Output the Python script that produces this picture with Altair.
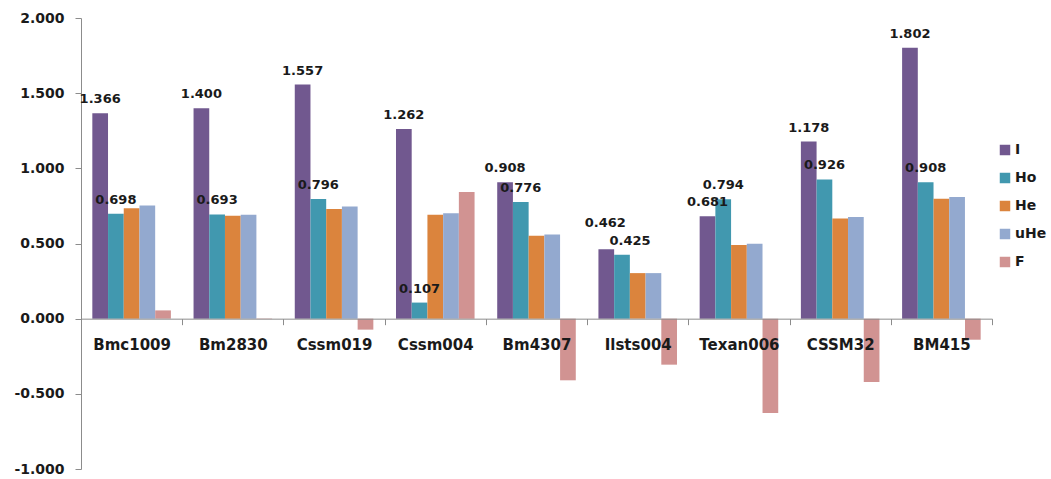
import altair as alt
import pandas as pd

# Microsatellite loci and the diversity statistics shown for each
markers = ["Bmc1009", "Bm2830", "Cssm019", "Cssm004", "Bm4307",
           "Ilsts004", "Texan006", "CSSM32", "BM415"]
series = ["I", "Ho", "He", "uHe", "F"]

I_vals = [1.366, 1.400, 1.557, 1.262, 0.908, 0.462, 0.681, 1.178, 1.802]
Ho_vals = [0.698, 0.693, 0.796, 0.107, 0.776, 0.425, 0.794, 0.926, 0.908]
He_vals = [0.735, 0.684, 0.729, 0.691, 0.551, 0.303, 0.490, 0.667, 0.797]
uHe_vals = [0.753, 0.691, 0.746, 0.702, 0.560, 0.303, 0.498, 0.676, 0.809]
F_vals = [0.055, -0.003, -0.073, 0.842, -0.410, -0.306, -0.627, -0.421, -0.140]

y_ticks = [-1.0, -0.5, 0.0, 0.5, 1.0, 1.5, 2.0]
colors = ["#71588F", "#4198AF", "#DB843D", "#93A9CF", "#D19392"]
labelled = ["I", "Ho"]
crowded = "Ilsts004"  # locus whose two value labels are nudged apart

values = {"I": I_vals, "Ho": Ho_vals, "He": He_vals, "uHe": uHe_vals, "F": F_vals}
rows = []
for s in series:
    for m, v in zip(markers, values[s]):
        rows.append({"marker": m, "stat": s, "value": v})
df = pd.DataFrame(rows)

FONT = "DejaVu Sans"
W, H = 911, 451
zero_offset = -H / 3.0  # puts the category axis on the zero line

x_enc = alt.X(
    "marker:N",
    sort=markers,
    scale=alt.Scale(paddingInner=0, paddingOuter=0),
    axis=alt.Axis(
        title=None,
        orient="bottom",
        offset=zero_offset,
        zindex=1,
        tickBand="extent",
        tickSize=6,
        tickColor="#8c8c8c",
        domainColor="#8c8c8c",
        labelAngle=0,
        labelFont=FONT,
        labelFontSize=15,
        labelFontWeight="bold",
        labelColor="#1a1a1a",
        labelPadding=13,
        grid=False,
    ),
)
xoff_enc = alt.XOffset(
    "stat:N",
    sort=series,
    scale=alt.Scale(domain=series, paddingInner=0, paddingOuter=0.72),
)
y_enc = alt.Y(
    "value:Q",
    scale=alt.Scale(domain=[-1, 2], nice=False, zero=False),
    axis=alt.Axis(
        title=None,
        values=y_ticks,
        labelExpr="replace(format(datum.value, '.3f'), '\u2212', '-')",
        tickSize=6,
        tickColor="#8c8c8c",
        domainColor="#8c8c8c",
        labelFont=FONT,
        labelFontSize=14,
        labelFontWeight="bold",
        labelColor="#1a1a1a",
        labelPadding=11,
        grid=False,
    ),
)

bars = alt.Chart(df).mark_bar(size=15.7).encode(
    x=x_enc,
    xOffset=xoff_enc,
    y=y_enc,
    color=alt.Color(
        "stat:N",
        sort=series,
        scale=alt.Scale(domain=series, range=colors),
        legend=alt.Legend(
            title=None,
            orient="none",
            legendX=917,
            legendY=125,
            symbolType="square",
            symbolSize=110,
            symbolStrokeWidth=0,
            labelFont=FONT,
            labelFontSize=14,
            labelFontWeight="bold",
            labelColor="#1a1a1a",
            rowPadding=14,
            labelOffset=3,
        ),
    ),
)


def value_labels(predicate, dx=0, dy=-10):
    return alt.Chart(df).transform_filter(predicate).mark_text(
        font=FONT, fontSize=13, fontWeight="bold", color="#1a1a1a",
        baseline="alphabetic", dx=dx, dy=dy,
    ).encode(
        x=alt.X("marker:N", sort=markers),
        xOffset=alt.XOffset("stat:N", sort=series),
        y="value:Q",
        text=alt.Text("value:Q", format=".3f"),
    )


is_labelled = alt.FieldOneOfPredicate(field="stat", oneOf=labelled)
is_crowded = alt.FieldEqualPredicate(field="marker", equal=crowded)

labels_main = value_labels(
    alt.LogicalAndPredicate(**{"and": [is_labelled, alt.LogicalNotPredicate(**{"not": is_crowded})]})
)
labels_crowded_i = value_labels(
    alt.LogicalAndPredicate(**{"and": [is_crowded, alt.FieldEqualPredicate(field="stat", equal="I")]}),
    dx=-1, dy=-22,
)
labels_crowded_ho = value_labels(
    alt.LogicalAndPredicate(**{"and": [is_crowded, alt.FieldEqualPredicate(field="stat", equal="Ho")]}),
    dx=8, dy=-10,
)

chart = alt.layer(bars, labels_main, labels_crowded_i, labels_crowded_ho).properties(
    width=W,
    height=H,
    autosize=alt.AutoSizeParams(type="none"),
    padding={"left": 81, "top": 18, "right": 59, "bottom": 10},
    background="white",
).configure_view(stroke=None)

chart.save("out.html", embed_options={"renderer": "svg", "actions": False})
